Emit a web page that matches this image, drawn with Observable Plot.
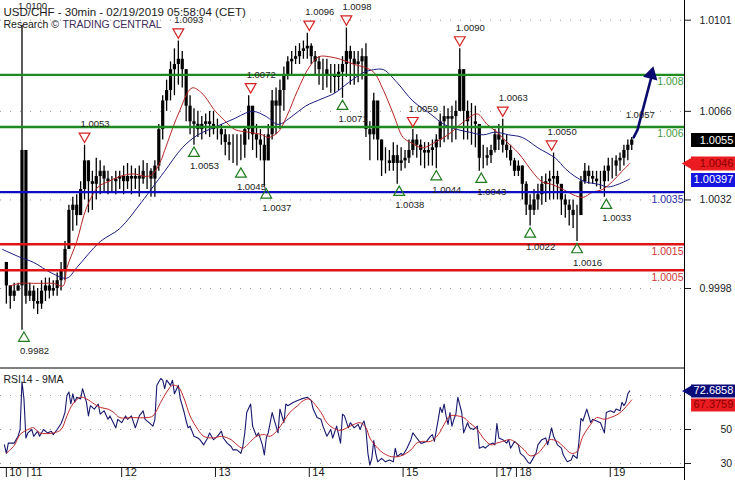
<!DOCTYPE html>
<html><head><meta charset="utf-8">
<script src="https://cdn.jsdelivr.net/npm/d3@7"></script>
<script src="https://cdn.jsdelivr.net/npm/@observablehq/plot@0.6"></script>
<style>
html,body{margin:0;padding:0;background:#fff;}
#chart{width:735px;height:480px;overflow:hidden;background:#fff;}
#chart svg{display:block;}
</style></head><body><div id="chart"></div>
<script>
// ---------- DATA ----------
const dayTicks = [0, 11, 59, 107, 155, 203, 251, 261, 309];
const dayLabels = ["10","11","12","13","14","15","17","18","19"];
const priceTicks = [1.0101, 1.0066, 1.0032, 0.9998];
const rsiTicks = [50, 30];
const rsiGrid = [70, 50, 30];

// 30-min bars, sampled every 2nd bar (bar index = 2*k)
const firstOpen = 1.0008;
const barHigh = [1.0008,0.9999,1.0000,1.0000,1.0099,1.0051,1.0000,0.9999,0.9998,1.0001,
1.0002,1.0002,1.0001,1.0004,1.0008,1.0016,1.0030,1.0033,1.0034,1.0039,
1.0053,1.0047,1.0043,1.0048,1.0047,1.0045,1.0043,1.0041,1.0043,1.0043,
1.0045,1.0046,1.0045,1.0044,1.0045,1.0047,1.0046,1.0044,1.0047,1.0061,
1.0072,1.0078,1.0085,1.0090,1.0093,1.0089,1.0082,1.0072,1.0067,1.0066,
1.0064,1.0065,1.0066,1.0066,1.0063,1.0061,1.0059,1.0057,1.0057,1.0057,
1.0057,1.0060,1.0072,1.0066,1.0061,1.0059,1.0057,1.0061,1.0074,1.0075,
1.0078,1.0083,1.0087,1.0089,1.0091,1.0092,1.0093,1.0096,1.0092,1.0089,
1.0087,1.0086,1.0086,1.0084,1.0084,1.0084,1.0087,1.0098,1.0091,1.0089,
1.0089,1.0090,1.0092,1.0062,1.0073,1.0068,1.0055,1.0052,1.0051,1.0054,
1.0053,1.0052,1.0051,1.0055,1.0059,1.0057,1.0055,1.0054,1.0054,1.0055,
1.0057,1.0065,1.0068,1.0067,1.0068,1.0070,1.0090,1.0082,1.0070,1.0069,
1.0068,1.0059,1.0053,1.0052,1.0053,1.0059,1.0061,1.0063,1.0057,1.0053,
1.0048,1.0047,1.0045,1.0039,1.0034,1.0036,1.0038,1.0041,1.0042,1.0043,
1.0050,1.0043,1.0036,1.0034,1.0032,1.0032,1.0030,1.0041,1.0046,1.0045,
1.0043,1.0043,1.0043,1.0045,1.0048,1.0048,1.0049,1.0050,1.0053,1.0055,1.0056];
const barLow = [0.9992,0.9990,0.9993,0.9997,0.9982,0.9992,0.9993,0.9990,0.9988,0.9990,
0.9993,0.9994,0.9995,0.9995,0.9997,1.0001,1.0015,1.0020,1.0022,1.0026,
1.0032,1.0027,1.0028,1.0032,1.0034,1.0035,1.0034,1.0035,1.0034,1.0036,
1.0034,1.0036,1.0034,1.0036,1.0033,1.0038,1.0036,1.0033,1.0033,1.0043,
1.0055,1.0066,1.0070,1.0072,1.0076,1.0075,1.0062,1.0057,1.0053,1.0056,
1.0055,1.0057,1.0056,1.0057,1.0055,1.0053,1.0049,1.0047,1.0046,1.0045,
1.0047,1.0048,1.0055,1.0051,1.0048,1.0047,1.0037,1.0047,1.0055,1.0057,
1.0059,1.0066,1.0078,1.0080,1.0084,1.0084,1.0086,1.0086,1.0084,1.0080,
1.0076,1.0074,1.0075,1.0073,1.0073,1.0074,1.0071,1.0079,1.0076,1.0076,
1.0077,1.0078,1.0056,1.0047,1.0055,1.0047,1.0041,1.0042,1.0043,1.0043,
1.0038,1.0043,1.0044,1.0046,1.0049,1.0048,1.0045,1.0044,1.0045,1.0045,
1.0044,1.0052,1.0054,1.0055,1.0054,1.0055,1.0066,1.0055,1.0055,1.0053,
1.0052,1.0043,1.0044,1.0045,1.0046,1.0050,1.0051,1.0050,1.0048,1.0045,
1.0041,1.0041,1.0032,1.0026,1.0022,1.0026,1.0028,1.0030,1.0031,1.0032,
1.0032,1.0032,1.0026,1.0025,1.0022,1.0021,1.0016,1.0026,1.0038,1.0038,
1.0038,1.0037,1.0036,1.0033,1.0039,1.0040,1.0041,1.0043,1.0045,1.0047,1.0051];
const barClose = [0.9999,0.9995,0.9997,0.9999,1.0051,0.9995,0.9997,0.9993,0.9992,0.9997,
0.9999,0.9997,0.9998,1.0001,1.0005,1.0013,1.0028,1.0030,1.0026,1.0036,
1.0047,1.0039,1.0038,1.0041,1.0043,1.0040,1.0039,1.0039,1.0040,1.0041,
1.0039,1.0041,1.0040,1.0041,1.0040,1.0043,1.0043,1.0040,1.0045,1.0059,
1.0070,1.0074,1.0082,1.0084,1.0086,1.0082,1.0068,1.0062,1.0061,1.0059,
1.0061,1.0062,1.0061,1.0059,1.0059,1.0057,1.0054,1.0053,1.0053,1.0053,
1.0053,1.0059,1.0068,1.0057,1.0055,1.0053,1.0047,1.0057,1.0070,1.0068,
1.0074,1.0080,1.0085,1.0086,1.0087,1.0089,1.0090,1.0091,1.0087,1.0085,
1.0082,1.0082,1.0080,1.0080,1.0079,1.0081,1.0084,1.0089,1.0086,1.0084,
1.0085,1.0087,1.0059,1.0057,1.0070,1.0055,1.0047,1.0047,1.0046,1.0049,
1.0046,1.0047,1.0048,1.0051,1.0055,1.0053,1.0051,1.0050,1.0051,1.0052,
1.0055,1.0062,1.0064,1.0063,1.0064,1.0066,1.0082,1.0066,1.0062,1.0062,
1.0061,1.0048,1.0048,1.0049,1.0051,1.0057,1.0055,1.0053,1.0051,1.0047,
1.0043,1.0045,1.0038,1.0030,1.0028,1.0032,1.0034,1.0038,1.0039,1.0040,
1.0041,1.0038,1.0032,1.0030,1.0028,1.0026,1.0026,1.0039,1.0043,1.0041,
1.0040,1.0039,1.0039,1.0043,1.0045,1.0045,1.0047,1.0048,1.0051,1.0053,1.0055];

// moving averages on price
const maRedIdx = [2,7,14,19,24,29,31,36,41,47,52,58,65,72,75,79,81,88,95,100,107,111,117,124,131,134,139,144,149,155,160,165,171,178,183,188,193,198,203,207,213,219,226,234,241,246,251,255,262,269,274,279,285,290,295,300,305,310,315,319];
const maRedVal = [0.9999,1.0000,1.0000,1.0000,1.0000,0.9999,1.0006,1.0016,1.0029,1.0037,1.0039,1.0041,1.0042,1.0041,1.0042,1.0047,1.0051,1.0065,1.0075,1.0073,1.0066,1.0063,1.0059,1.0058,1.0057,1.0056,1.0058,1.0065,1.0074,1.0083,1.0087,1.0087,1.0086,1.0084,1.0083,1.0081,1.0074,1.0065,1.0056,1.0054,1.0052,1.0054,1.0057,1.0062,1.0065,1.0061,1.0058,1.0055,1.0050,1.0043,1.0039,1.0038,1.0036,1.0034,1.0033,1.0035,1.0036,1.0039,1.0043,1.0046];
const maBlueIdx = [-2,7,14,23,31,36,48,58,69,75,81,90,98,107,116,126,133,139,146,153,162,168,175,183,188,193,200,208,217,224,231,237,244,250,257,264,272,281,286,291,296,303,308,313,319];
const maBlueVal = [1.0013,1.0010,1.0008,1.0004,1.0002,1.0006,1.0016,1.0021,1.0031,1.0037,1.0043,1.0052,1.0057,1.0060,1.0063,1.0066,1.0064,1.0061,1.0064,1.0068,1.0071,1.0073,1.0077,1.0081,1.0082,1.0082,1.0077,1.0070,1.0065,1.0061,1.0059,1.0058,1.0057,1.0058,1.0057,1.0056,1.0052,1.0048,1.0044,1.0041,1.0039,1.0038,1.0037,1.0038,1.0040];

// support / resistance levels
const levelVal = [1.008, 1.006, 1.0035, 1.0015, 1.0005];
const levelLabel = ["1.008", "1.006", "1.0035", "1.0015", "1.0005"];
const levelKind = ["resistance", "resistance", "pivot", "support", "support"];

// swing pivots
const pivotHighIdx = [40, 88, 125, 155, 174, 208, 232, 254, 279];
const pivotHighVal = [1.0053, 1.0093, 1.0072, 1.0096, 1.0098, 1.0059, 1.0090, 1.0063, 1.0050];
const pivotLowIdx = [9, 96, 120, 133, 172, 201, 220, 243, 268, 292, 307];
const pivotLowVal = [0.9982, 1.0053, 1.0045, 1.0037, 1.0071, 1.0038, 1.0044, 1.0043, 1.0022, 1.0016, 1.0033];
const topLabelIdx = [8];
const topLabelVal = [1.0100];

// projected path
const arrowIdx = [321, 323, 330];
const arrowVal = [1.0056, 1.0059, 1.0079];
const targetLabel = "1.0057";

// last values
const lastPrice = 1.0055, maFastLast = 1.0046, maSlowLast = 1.00397;
const rsiLast = 72.6858, rsiMaLast = 67.3759;

// RSI14 and its 9MA
const rsiIdx = [-1,0,1,4,6,7,8,9,10,11,13,14,16,17,19,21,23,24,26,28,29,30,31,32,33,34,35,36,38,39,41,42,43,45,47,48,50,52,53,56,57,59,61,62,64,66,68,70,71,73,75,76,77,79,80,81,82,84,85,86,88,89,91,92,93,94,96,98,99,101,103,104,106,108,110,111,113,115,116,118,120,121,122,123,125,126,127,128,129,131,132,133,134,136,137,139,140,142,143,144,147,149,151,154,156,157,159,161,162,164,166,167,169,171,172,173,175,176,178,180,181,182,183,184,185,186,187,188,189,190,192,194,196,198,199,200,202,203,205,207,208,210,212,213,215,217,218,219,221,222,223,224,225,226,227,228,229,230,231,233,234,235,236,237,239,241,242,244,245,247,249,250,251,252,254,256,257,258,260,262,263,265,267,268,269,271,272,274,276,277,279,280,282,284,285,287,289,290,292,293,294,295,297,298,299,300,302,304,306,307,309,311,312,314,315,316,317,318,319];
const rsiVal = [41,36,42,42,46,50,78,68,45,48,50,46,49,46,50,48,49,47,50,53.5,56.5,60,70,72,65,71,66,69,68,74,66,58,64,62,65,59,61,56,58,51,56,54,58,56,58,51,58,61,56,54,52,56,76,80,79,74,79,76,79,71,76,68,60,55,51,52,46,45,44,41,45,48,44,46,49,45,42,40,38,38,36,40,48,60,65,52,49,46,48,41,35,45,48,60,56,48,62,54,65,64,66,67,68,69,67,62,57,56,52,46,50,45,52,42,59,58,51,54,51,53,50,53,55,50,36,29,33,43.5,36,31,33,31,32,31,39,34,36,35,39,44,48,45,42,42,43,46,47,43,56,63,60,65,58,53,60,52,56,59,69,60,48,51,54,51,50,52,39,40,39,41,42,41,53.5,45,44,42,44,39,43,41,36,34,30.6,30,32,36,41,44,45,41,51,46,41,39,35,31,32,35,33,43,56.5,55,62,58,54,56,55,54,48,60,61,60,62,61,66,64,66,71,72.7];
const rsiMaIdx = [0,4,7,11,14,17,24,28,31,34,38,41,45,48,52,55,58,65,72,75,79,82,85,88,91,94,98,101,106,110,115,118,121,125,128,132,135,139,142,145,149,152,155,157,161,164,167,171,176,181,184,186,190,193,197,200,203,207,210,213,217,221,224,227,231,234,237,241,244,248,251,254,258,262,265,268,272,275,278,282,285,289,292,295,299,302,306,309,313,316,320];
const rsiMaVal = [36,40.6,47,50,51,48,48,50,58,65,69,68,65,63,62,60,57,57,57,58,66,72,76,75,68,58,50,46,45,46,44,41,39,43,46,47,46,50,55,60,64,67,68,66,60,54,51,49.5,52,54,51,45,39,36,34,34,35,38,42,43,43,47,53,58,58,57,54,50,45,41,42,43,44,41,38,34.5,36,40,44,43,40,36,37,46,53,57,56,57,59,62,67.4];

// ---------- LAYOUT / STYLE ----------
const X_DOMAIN = [-3, 347];
const PRICE_DOMAIN = [0.996768, 1.010856];
const RSI_DOMAIN = [27.65, 86.47];
const BOX_X1 = 350.6, BOX_X2 = 376, BOX_TEXT_X = 372, TIP_X = 349.4;
const FONT = "'Liberation Sans', Arial, sans-serif";
const levelColor = {resistance: "#1f8a1f", pivot: "#0d0dc4", support: "#de1515"};
const levelTextColor = {resistance: "#3f9b3f", pivot: "#2b2ba8", support: "#d03535"};

const bars = barClose.map((c, k) => ({
  i: 2 * k, open: k === 0 ? firstOpen : barClose[k - 1],
  high: barHigh[k], low: barLow[k], close: c
}));
const zip = (xs, ys) => xs.map((x, j) => ({i: x, v: ys[j]}));
const levels = levelVal.map((v, j) => ({v, label: levelLabel[j], c: levelColor[levelKind[j]], tc: levelTextColor[levelKind[j]]}));
const pivHigh = zip(pivotHighIdx, pivotHighVal);
const pivLow = zip(pivotLowIdx, pivotLowVal);
const arrowPts = zip(arrowIdx, arrowVal);
const fmt4 = d3.format(".4f");

const main = Plot.plot({
  width: 735, height: 367,
  marginLeft: 0, marginRight: 51, marginTop: 0, marginBottom: 0,
  x: {domain: X_DOMAIN, axis: null},
  y: {domain: PRICE_DOMAIN, axis: "right", ticks: priceTicks, tickFormat: fmt4, tickSize: 6, tickPadding: 9, label: null},
  color: {type: "identity"},
  style: {fontFamily: FONT, fontSize: "10.5px", background: "white", color: "#1a1a1a", overflow: "visible"},
  marks: [
    Plot.ruleY(priceTicks, {stroke: "#9a9a9a", strokeDasharray: "1 9"}),
    Plot.ruleX(bars, {x: "i", y1: "low", y2: "high", stroke: "#000", strokeWidth: 1.3}),
    Plot.ruleX(bars, {x: "i", y1: "open", y2: "close", stroke: "#000", strokeWidth: 3.2}),
    Plot.line(zip(maBlueIdx, maBlueVal), {x: "i", y: "v", stroke: "#1c1c82", strokeWidth: 1, curve: "catmull-rom"}),
    Plot.line(zip(maRedIdx, maRedVal), {x: "i", y: "v", stroke: "#b52424", strokeWidth: 1, curve: "catmull-rom"}),
    Plot.ruleY(levels, {y: "v", stroke: "c", strokeWidth: 2.4}),
    Plot.text(levels, {y: "v", text: "label", fill: "tc", frameAnchor: "right", textAnchor: "end", dx: -1, dy: 7}),
    Plot.dot(pivHigh, {x: "i", y: "v", symbol: "triangle", rotate: 180, r: 4, dy: -9, stroke: "#d42222", fill: "none", strokeWidth: 1.2}),
    Plot.text(pivHigh, {x: "i", y: "v", text: d => fmt4(d.v), dy: -21, dx: -4, textAnchor: "start", fontSize: 9.5, fill: "#222"}),
    Plot.dot(pivLow, {x: "i", y: "v", symbol: "triangle", r: 4, dy: 8, stroke: "#1d7a1d", fill: "none", strokeWidth: 1.2}),
    Plot.text(pivLow, {x: "i", y: "v", text: d => fmt4(d.v), dy: 21, dx: -4, textAnchor: "start", fontSize: 9.5, fill: "#222"}),
    Plot.text(zip(topLabelIdx, topLabelVal), {x: "i", y: "v", text: d => fmt4(d.v), dy: -17, dx: -4, textAnchor: "start", fontSize: 9.5, fill: "#222"}),
    Plot.line(arrowPts, {x: "i", y: "v", stroke: "#0b0b6e", strokeWidth: 2.6}),
    Plot.dot(arrowPts.slice(-1), {x: "i", y: "v", symbol: "triangle", r: 5.5, rotate: 14, dy: -3, fill: "#0b0b6e"}),
    Plot.text(arrowPts.slice(0, 1), {x: "i", y: "v", text: () => targetLabel, dx: -8, dy: -22, textAnchor: "start", fontSize: 9.5, fill: "#222"}),
    Plot.ruleX([X_DOMAIN[1]], {stroke: "#000", strokeWidth: 1}),
    // last-value boxes on the price scale
    Plot.ruleY([lastPrice], {x1: BOX_X1, x2: BOX_X2, stroke: "#000", strokeWidth: 14}),
    Plot.text([lastPrice], {x: BOX_TEXT_X, y: d => d, text: d => fmt4(d), textAnchor: "end", fill: "#fff", fontSize: 11}),
    Plot.ruleY([maFastLast], {x1: BOX_X1, x2: BOX_X2, stroke: "#ea1c22", strokeWidth: 14}),
    Plot.dot([maFastLast], {x: TIP_X, y: d => d, symbol: "triangle", rotate: -90, r: 4.8, fill: "#ea1c22"}),
    Plot.text([maFastLast], {x: BOX_TEXT_X, y: d => d, text: d => fmt4(d), textAnchor: "end", fill: "#8a0000", fontSize: 11}),
    Plot.ruleY([maSlowLast], {x1: BOX_X1, x2: BOX_X2, stroke: "#1515e0", strokeWidth: 14}),
    Plot.text([maSlowLast], {x: BOX_TEXT_X, y: d => d, text: d => d3.format(".5f")(d), textAnchor: "end", fill: "#fff", fontSize: 11}),
    // header
    Plot.text(["USD/CHF - 30min - 02/19/2019 05:58:04 (CET)"], {frameAnchor: "top-left", dx: 3, dy: 7, textAnchor: "start", fontSize: 11.5, fill: "#1a1a1a"}),
    Plot.text(["Research \u00a9 "], {frameAnchor: "top-left", dx: 3, dy: 20, textAnchor: "start", fontSize: 10.5, fill: "#1a1a1a"}),
    Plot.text(["TRADING CENTRAL"], {frameAnchor: "top-left", dx: 62, dy: 20, textAnchor: "start", fontSize: 10.5, fill: "#3f2d5c"})
  ]
});

const rsi = Plot.plot({
  width: 735, height: 113,
  marginLeft: 0, marginRight: 51, marginTop: 0, marginBottom: 13,
  x: {domain: X_DOMAIN, ticks: dayTicks, tickSize: 10, tickFormat: () => "", label: null},
  y: {domain: RSI_DOMAIN, axis: "right", ticks: rsiTicks, tickSize: 6, tickPadding: 30, label: null},
  style: {fontFamily: FONT, fontSize: "10.5px", background: "white", color: "#1a1a1a", overflow: "visible"},
  marks: [
    Plot.ruleY(rsiGrid, {stroke: "#9a9a9a", strokeDasharray: "1 9"}),
    Plot.line(zip(rsiIdx, rsiVal), {x: "i", y: "v", stroke: "#18186e", strokeWidth: 1.1}),
    Plot.line(zip(rsiMaIdx, rsiMaVal), {x: "i", y: "v", stroke: "#c0282d", strokeWidth: 1, curve: "catmull-rom"}),
    Plot.ruleY([RSI_DOMAIN[1] - 0.3, RSI_DOMAIN[0]], {stroke: "#000", strokeWidth: 1}),
    Plot.ruleX([X_DOMAIN[1]], {y1: RSI_DOMAIN[1] + 1, y2: 19.9, stroke: "#000", strokeWidth: 1}),
    Plot.text(["RSI14 - 9MA"], {frameAnchor: "top-left", dx: 3, dy: 8, textAnchor: "start", fill: "#1a1a1a"}),
    Plot.text(dayTicks, {x: d => d, text: (d, i) => dayLabels[i], frameAnchor: "bottom", dx: 3, dy: 8, textAnchor: "start", fontSize: 11, fill: "#1a1a1a"}),
    Plot.ruleY([rsiLast], {x1: BOX_X1, x2: BOX_X2, stroke: "#0a0a78", strokeWidth: 13}),
    Plot.dot([rsiLast], {x: TIP_X, y: d => d, symbol: "triangle", rotate: -90, r: 4.6, fill: "#0a0a78"}),
    Plot.text([rsiLast], {x: BOX_TEXT_X, y: d => d, text: d => d.toFixed(4), textAnchor: "end", fill: "#fff", fontSize: 11}),
    Plot.ruleY([rsiMaLast], {x1: BOX_X1, x2: BOX_X2, dy: 5, stroke: "#ea1c22", strokeWidth: 13}),
    Plot.text([rsiMaLast], {x: BOX_TEXT_X, y: d => d, dy: 5, text: d => d.toFixed(4), textAnchor: "end", fill: "#8a0000", fontSize: 11})
  ]
});

const root = document.getElementById("chart");
root.appendChild(main);
root.appendChild(rsi);
</script></body></html>
